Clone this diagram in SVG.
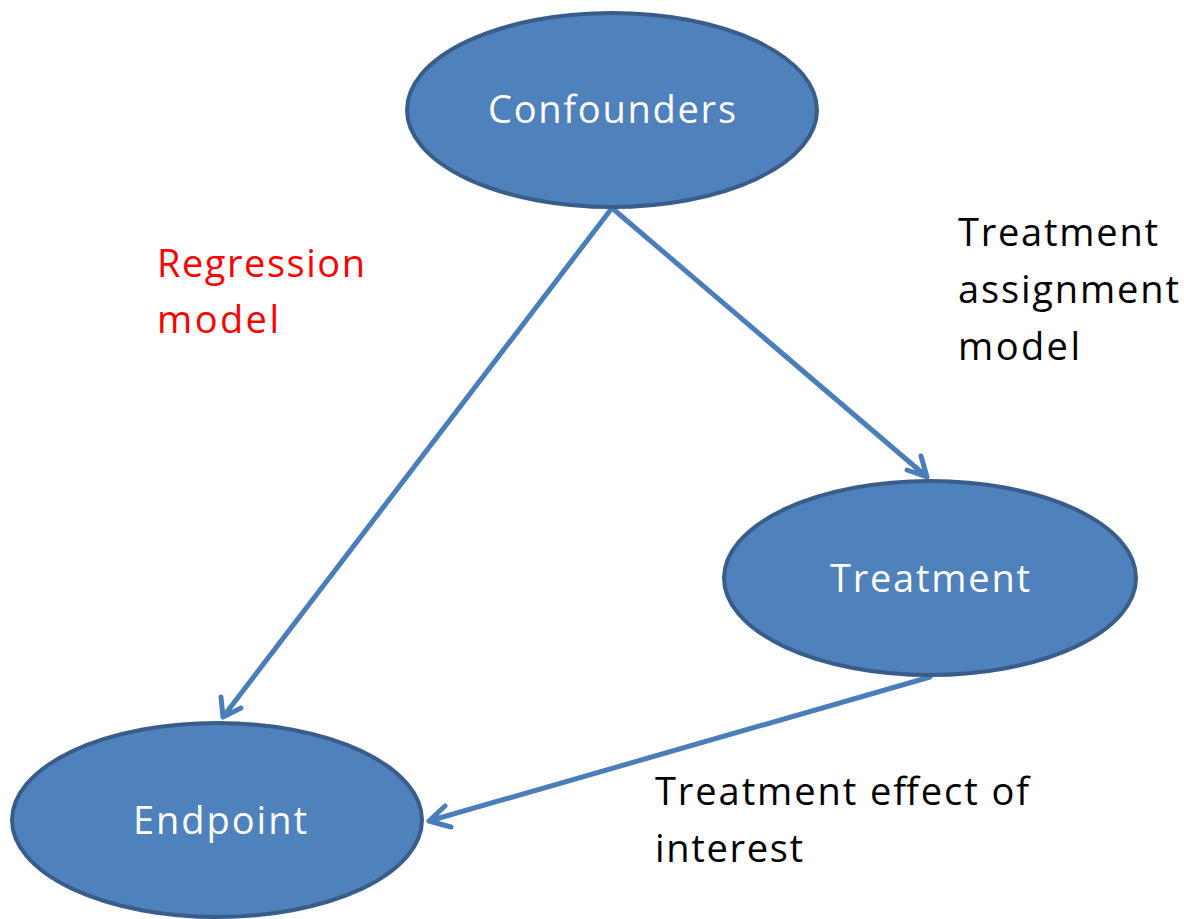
<svg xmlns="http://www.w3.org/2000/svg" width="1184" height="919" viewBox="0 0 1184 919">
<style>
.node{fill:#4F81BD;stroke:#385D8A;stroke-width:4}
.nt{font-family:"Open Sans","Liberation Sans",sans-serif;font-size:38px;fill:#fff;text-anchor:middle}
.lbl{font-family:"Open Sans","Liberation Sans",sans-serif;font-size:38px;fill:#000}
.red{fill:#FF0000}
.edge{fill:none;stroke:#4A7EBB;stroke-width:5;stroke-linecap:round;stroke-linejoin:round}
</style>
<rect width="1184" height="919" fill="#fff"/>
<g id="connectors">
<path class="edge" d="M612,208 L927,477 M907,470 L927,477 L921,456"/>
<path class="edge" d="M612,208 L223,717 M221,697 L223,717 L241,708"/>
<path class="edge" d="M930,677 L429,821 M445,806 L429,821 L451,827"/>
</g>
<g id="confounders">
<ellipse class="node" cx="612" cy="110" rx="205" ry="97"/>
<text class="nt" x="612" y="123" textLength="248">Confounders</text>
</g>
<g id="treatment">
<ellipse class="node" cx="930" cy="578" rx="206" ry="97"/>
<text class="nt" x="930" y="592" textLength="200">Treatment</text>
</g>
<g id="endpoint">
<ellipse class="node" cx="217" cy="820" rx="205" ry="97"/>
<text class="nt" x="220" y="834" textLength="174">Endpoint</text>
</g>
<g id="labels">
<text class="lbl red" x="157" y="277" textLength="208">Regression</text>
<text class="lbl red" x="157" y="333" textLength="122">model</text>
<text class="lbl" x="958" y="246" textLength="200">Treatment</text>
<text class="lbl" x="958" y="303" textLength="221">assignment</text>
<text class="lbl" x="958" y="360" textLength="122">model</text>
<text class="lbl" x="655" y="805" textLength="374">Treatment effect of</text>
<text class="lbl" x="655" y="862" textLength="148">interest</text>
</g>
</svg>
